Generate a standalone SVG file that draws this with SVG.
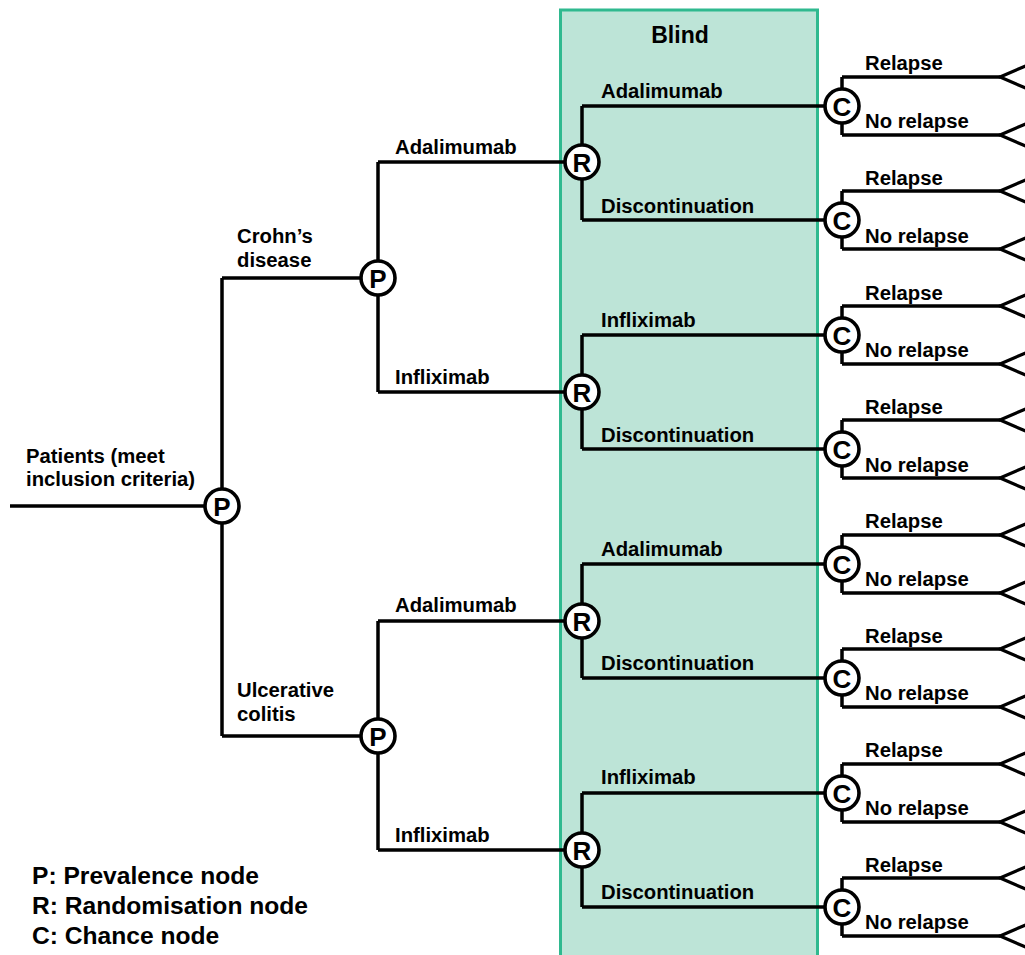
<svg xmlns="http://www.w3.org/2000/svg" width="1025" height="955" viewBox="0 0 1025 955">
<style>
.ln{fill:none;stroke:#000;stroke-width:3.5;stroke-linejoin:miter;stroke-linecap:butt}
.nd{fill:#fff;stroke:#000;stroke-width:3.6}
.nt{font-family:"Liberation Sans",Arial,sans-serif;font-weight:bold;font-size:26px;text-anchor:middle;fill:#000}
.lb{font-family:"Liberation Sans",Arial,sans-serif;font-weight:bold;font-size:20.3px;fill:#000}
.lg{font-family:"Liberation Sans",Arial,sans-serif;font-weight:bold;font-size:24.6px;fill:#000}
.tri{fill:#fff;stroke:#000;stroke-width:3.2}
</style>
<rect width="1025" height="955" fill="#fff"/>
<g id="blind">
<rect x="560.5" y="10" width="257" height="960" fill="#bde4d7" stroke="#2fb98f" stroke-width="3"/>
<text x="680" y="43" class="lb" style="font-size:23px" text-anchor="middle">Blind</text>
</g>
<g id="connectors">
<path class="ln" d="M10 506H222M222 278V736M222 278H378M222 736H378"/>
<path class="ln" d="M378 162V392M378 162H582M378 392H582M378 621V850M378 621H582M378 850H582"/>
<path class="ln" d="M582 106V220M582 106H842M582 220H842M582 335V449M582 335H842M582 449H842M582 564V678M582 564H842M582 678H842M582 793V907M582 793H842M582 907H842"/>
<path class="ln" d="M842 77V135M842 77H1000M842 135H1000M842 191V249M842 191H1000M842 249H1000M842 306V364M842 306H1000M842 364H1000M842 420V478M842 420H1000M842 478H1000M842 535V593M842 535H1000M842 593H1000M842 649V707M842 649H1000M842 707H1000M842 764V822M842 764H1000M842 822H1000M842 878V936M842 878H1000M842 936H1000"/>
</g>
<g id="terminals">
<polygon class="tri" points="1000,77 1030,64 1030,90"/>
<polygon class="tri" points="1000,135 1030,122 1030,148"/>
<polygon class="tri" points="1000,191 1030,178 1030,204"/>
<polygon class="tri" points="1000,249 1030,236 1030,262"/>
<polygon class="tri" points="1000,306 1030,293 1030,319"/>
<polygon class="tri" points="1000,364 1030,351 1030,377"/>
<polygon class="tri" points="1000,420 1030,407 1030,433"/>
<polygon class="tri" points="1000,478 1030,465 1030,491"/>
<polygon class="tri" points="1000,535 1030,522 1030,548"/>
<polygon class="tri" points="1000,593 1030,580 1030,606"/>
<polygon class="tri" points="1000,649 1030,636 1030,662"/>
<polygon class="tri" points="1000,707 1030,694 1030,720"/>
<polygon class="tri" points="1000,764 1030,751 1030,777"/>
<polygon class="tri" points="1000,822 1030,809 1030,835"/>
<polygon class="tri" points="1000,878 1030,865 1030,891"/>
<polygon class="tri" points="1000,936 1030,923 1030,949"/>
</g>
<g id="labels">
<text class="lb" x="26" y="463">Patients (meet</text>
<text class="lb" x="26" y="486">inclusion criteria)</text>
<text class="lb" x="237" y="243">Crohn’s</text>
<text class="lb" x="237" y="267">disease</text>
<text class="lb" x="237" y="697">Ulcerative</text>
<text class="lb" x="237" y="721">colitis</text>
<text class="lb" x="395" y="154">Adalimumab</text>
<text class="lb" x="395" y="384">Infliximab</text>
<text class="lb" x="395" y="612">Adalimumab</text>
<text class="lb" x="395" y="842">Infliximab</text>
<text class="lb" x="601" y="98">Adalimumab</text>
<text class="lb" x="601" y="213">Discontinuation</text>
<text class="lb" x="601" y="327">Infliximab</text>
<text class="lb" x="601" y="442">Discontinuation</text>
<text class="lb" x="601" y="556">Adalimumab</text>
<text class="lb" x="601" y="670">Discontinuation</text>
<text class="lb" x="601" y="784">Infliximab</text>
<text class="lb" x="601" y="899">Discontinuation</text>
<text class="lb" x="865" y="70">Relapse</text>
<text class="lb" x="865" y="128">No relapse</text>
<text class="lb" x="865" y="185">Relapse</text>
<text class="lb" x="865" y="243">No relapse</text>
<text class="lb" x="865" y="300">Relapse</text>
<text class="lb" x="865" y="357">No relapse</text>
<text class="lb" x="865" y="414">Relapse</text>
<text class="lb" x="865" y="472">No relapse</text>
<text class="lb" x="865" y="528">Relapse</text>
<text class="lb" x="865" y="586">No relapse</text>
<text class="lb" x="865" y="643">Relapse</text>
<text class="lb" x="865" y="700">No relapse</text>
<text class="lb" x="865" y="757">Relapse</text>
<text class="lb" x="865" y="815">No relapse</text>
<text class="lb" x="865" y="872">Relapse</text>
<text class="lb" x="865" y="929">No relapse</text>
</g>
<g id="P0"><circle class="nd" cx="222" cy="506" r="17"/><text class="nt" x="222" y="515.5">P</text></g>
<g id="P1"><circle class="nd" cx="378" cy="278" r="17"/><text class="nt" x="378" y="287.5">P</text></g>
<g id="P2"><circle class="nd" cx="378" cy="736" r="17"/><text class="nt" x="378" y="745.5">P</text></g>
<g id="R1"><circle class="nd" cx="582" cy="162" r="17"/><text class="nt" x="582" y="171.5">R</text></g>
<g id="R2"><circle class="nd" cx="582" cy="392" r="17"/><text class="nt" x="582" y="401.5">R</text></g>
<g id="R3"><circle class="nd" cx="582" cy="621" r="17"/><text class="nt" x="582" y="630.5">R</text></g>
<g id="R4"><circle class="nd" cx="582" cy="850" r="17"/><text class="nt" x="582" y="859.5">R</text></g>
<g id="C1"><circle class="nd" cx="842" cy="106" r="17"/><text class="nt" x="842" y="115.5">C</text></g>
<g id="C2"><circle class="nd" cx="842" cy="220" r="17"/><text class="nt" x="842" y="229.5">C</text></g>
<g id="C3"><circle class="nd" cx="842" cy="335" r="17"/><text class="nt" x="842" y="344.5">C</text></g>
<g id="C4"><circle class="nd" cx="842" cy="449" r="17"/><text class="nt" x="842" y="458.5">C</text></g>
<g id="C5"><circle class="nd" cx="842" cy="564" r="17"/><text class="nt" x="842" y="573.5">C</text></g>
<g id="C6"><circle class="nd" cx="842" cy="678" r="17"/><text class="nt" x="842" y="687.5">C</text></g>
<g id="C7"><circle class="nd" cx="842" cy="793" r="17"/><text class="nt" x="842" y="802.5">C</text></g>
<g id="C8"><circle class="nd" cx="842" cy="907" r="17"/><text class="nt" x="842" y="916.5">C</text></g>
<g id="legend">
<text class="lg" x="32" y="884">P: Prevalence node</text>
<text class="lg" x="32" y="914">R: Randomisation node</text>
<text class="lg" x="32" y="944">C: Chance node</text>
</g>
</svg>
